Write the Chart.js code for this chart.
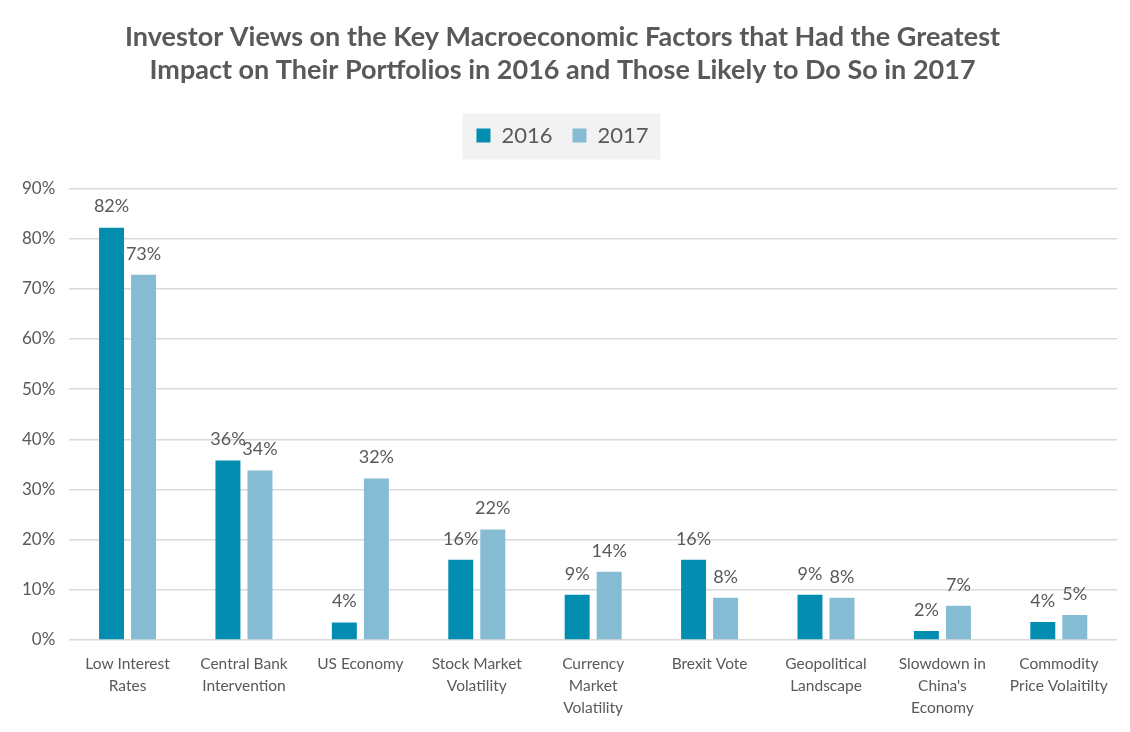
<!DOCTYPE html>
<html>
<head>
<meta charset="utf-8">
<script src="https://cdn.jsdelivr.net/npm/chart.js@4"></script>
<style>
html,body{margin:0;padding:0;background:#fff;}
#wrap{width:1130px;height:732px;position:relative;}
</style>
</head>
<body>
<div id="wrap"><canvas id="c"></canvas></div>
<script>
const categories = [
  ["Low Interest", "Rates"],
  ["Central Bank", "Intervention"],
  ["US Economy"],
  ["Stock Market", "Volatility"],
  ["Currency", "Market", "Volatility"],
  ["Brexit Vote"],
  ["Geopolitical", "Landscape"],
  ["Slowdown in", "China's", "Economy"],
  ["Commodity", "Price Volaitilty"]
];
const values2016 = [82.2, 35.8, 3.5, 16.0, 9.0, 16.0, 9.0, 1.8, 3.6];
const values2017 = [72.8, 33.8, 32.2, 22.0, 13.6, 8.4, 8.4, 6.8, 5.0];
const seriesNames = ["2016", "2017"];
const yTicks = [0, 10, 20, 30, 40, 50, 60, 70, 80, 90];
const titleLines = [
  "Investor Views on the Key Macroeconomic Factors that Had the Greatest",
  "Impact on Their Portfolios in 2016 and Those Likely to Do So in 2017"
];

const FONT = "Lato, 'Open Sans', sans-serif";
const GRAY = "#595959";

const valueLabels = {
  id: 'valueLabels',
  afterDatasetsDraw(chart) {
    const ctx = chart.ctx;
    ctx.save();
    ctx.font = "18px " + FONT;
    ctx.fillStyle = GRAY;
    ctx.textAlign = 'center';
    ctx.textBaseline = 'bottom';
    chart.data.datasets.forEach((ds, i) => {
      const meta = chart.getDatasetMeta(i);
      meta.data.forEach((bar, j) => {
        ctx.fillText(Math.round(ds.data[j]) + '%', bar.x, bar.y - 12);
      });
    });
    ctx.restore();
  }
};

const legendMargin = {
  id: 'legendMargin',
  beforeInit(chart) {
    const lg = chart.legend;
    if (!lg) return;
    const origFit = lg.fit;
    lg.fit = function () {
      origFit.call(this);
      this.height += 32;
    };
  }
};

const legendBg = {
  id: 'legendBg',
  beforeDraw(chart) {
    const lg = chart.legend;
    if (!lg || !lg.legendHitBoxes || !lg.legendHitBoxes.length) return;
    const boxes = lg.legendHitBoxes;
    const x1 = boxes[0].left - 14;
    const last = boxes[boxes.length - 1];
    const x2 = last.left + last.width + 12;
    const y1 = boxes[0].top - 11;
    const y2 = boxes[0].top + boxes[0].height + 13;
    const ctx = chart.ctx;
    ctx.save();
    ctx.fillStyle = '#f2f2f2';
    ctx.fillRect(x1, y1, x2 - x1, y2 - y1);
    ctx.restore();
  }
};

new Chart(document.getElementById('c'), {
  type: 'bar',
  data: {
    labels: categories,
    datasets: [
      { label: seriesNames[0], data: values2016, backgroundColor: '#038db1',
        barPercentage: 0.78, categoryPercentage: 0.55 },
      { label: seriesNames[1], data: values2017, backgroundColor: '#86bcd3',
        barPercentage: 0.78, categoryPercentage: 0.55 }
    ]
  },
  options: {
    responsive: true,
    maintainAspectRatio: false,
    animation: false,
    layout: { padding: { left: 8, right: 13, top: 14, bottom: 0 } },
    plugins: {
      title: {
        display: true,
        text: titleLines,
        color: GRAY,
        font: { family: FONT, size: 27, weight: 'bold', lineHeight: 1.25 },
        padding: { top: 6, bottom: 17 }
      },
      legend: {
        display: true,
        position: 'top',
        labels: {
          color: GRAY,
          font: { family: FONT, size: 22 },
          boxWidth: 14,
          boxHeight: 14,
          padding: 20
        }
      },
      tooltip: { enabled: false }
    },
    scales: {
      x: {
        grid: { display: false, drawTicks: false },
        border: { display: false },
        ticks: {
          color: GRAY,
          font: { family: FONT, size: 15.5, lineHeight: 1.42 },
          padding: 13,
          maxRotation: 0,
          autoSkip: false
        }
      },
      y: {
        min: 0,
        max: 90,
        afterBuildTicks(axis) { axis.ticks = yTicks.map(v => ({ value: v })); },
        grid: { color: '#d9d9d9', lineWidth: 1.5, drawTicks: false },
        border: { display: false },
        ticks: {
          color: GRAY,
          font: { family: FONT, size: 17 },
          padding: 14,
          callback: v => v + '%'
        }
      }
    }
  },
  plugins: [legendMargin, legendBg, valueLabels]
});
</script>
</body>
</html>
